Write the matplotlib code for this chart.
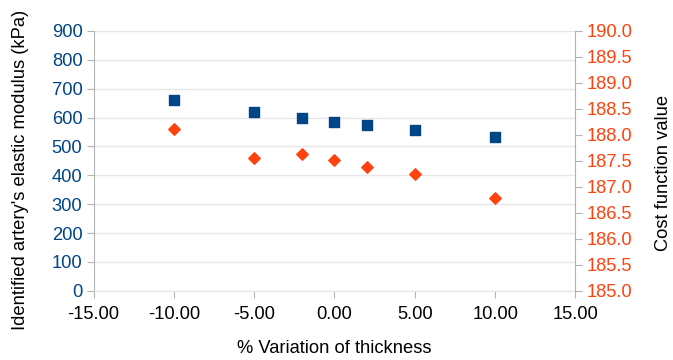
import matplotlib.pyplot as plt
import numpy as np

plt.rcParams['font.family'] = ['Liberation Sans', 'DejaVu Sans']

# % variation of thickness
variation = [-10, -5, -2, 0, 2, 5, 10]
# identified elastic modulus (kPa), left axis
modulus = [661, 620, 600, 586, 575, 557, 532]
# cost function value, right axis
cost = [188.12, 187.55, 187.64, 187.51, 187.38, 187.25, 186.79]

blue = '#004586'
orange = '#ff420e'
grid_c = '#e6e6e6'
spine_c = '#b3b3b3'
fs = 13.2

fig = plt.figure(figsize=(6.73, 3.6), dpi=100)
ax = fig.add_axes([0.139, 0.192, 0.716, 0.722])
ax2 = ax.twinx()

ax.scatter(variation, modulus, marker='s', s=62, color=blue, zorder=3)
ax2.scatter(variation, cost, marker='D', s=34, color=orange, zorder=3)

ax.set_xlim(-15, 15)
ax.set_ylim(0, 900)
ax2.set_ylim(185, 190)
ax.set_xticks(np.arange(-15, 16, 5))
ax.set_xticklabels([f'{v:.2f}' for v in np.arange(-15, 16, 5)])
ax.set_yticks(np.arange(0, 901, 100))
ax2.set_yticks(np.arange(185, 190.01, 0.5))
ax2.set_yticklabels([f'{v:.1f}' for v in np.arange(185, 190.01, 0.5)])

ax.grid(axis='y', color=grid_c, linewidth=1)
ax.set_axisbelow(True)

for a in (ax, ax2):
    for s in a.spines.values():
        s.set_visible(False)
ax.spines['left'].set_visible(True)
ax.spines['left'].set_color(spine_c)
ax.spines['bottom'].set_visible(True)
ax.spines['bottom'].set_color(grid_c)
ax2.spines['right'].set_visible(True)
ax2.spines['right'].set_color(spine_c)

ax.tick_params(axis='y', colors=spine_c, labelcolor=blue, labelsize=fs, length=5, pad=3)
ax.tick_params(axis='x', colors=spine_c, labelcolor='black', labelsize=fs, length=5, pad=6)
ax2.tick_params(axis='y', colors=spine_c, labelcolor=orange, labelsize=fs, length=5, pad=3)

ax.set_xlabel('% Variation of thickness', fontsize=fs, labelpad=12)
ax.set_ylabel("Identified artery's elastic modulus (kPa)", fontsize=fs)
ax2.set_ylabel('Cost function value', fontsize=fs)
ax.yaxis.set_label_coords(-0.133, 0.465)
ax2.yaxis.set_label_coords(1.166, 0.455)

fig.savefig('out.png', dpi=100)
